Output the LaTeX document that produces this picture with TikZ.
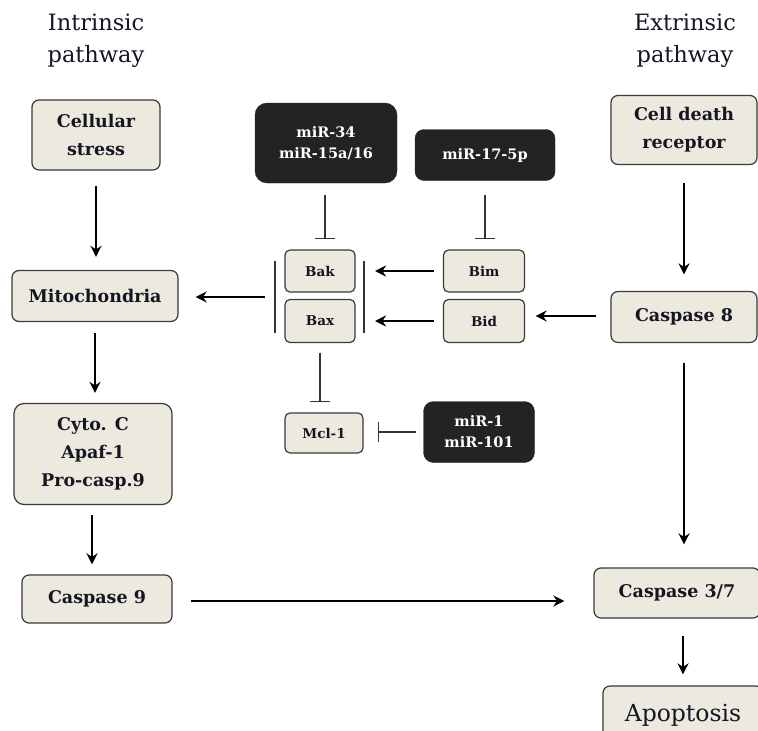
\documentclass[tikz,border=0pt]{standalone}
\usepackage{fontspec}
\setmainfont{DejaVu Serif}
\usetikzlibrary{arrows.meta}
\definecolor{boxfill}{HTML}{ECE9DF}
\definecolor{boxline}{HTML}{3A3A3A}
\definecolor{mirfill}{HTML}{232323}
\definecolor{ink}{HTML}{161622}
\definecolor{inhcol}{HTML}{333333}
\tikzset{
  box/.style={draw=boxline, fill=boxfill, rounded corners=7pt, line width=1.2pt,
    text=ink, font=\bfseries\fontsize{17.5}{28}\selectfont, align=center, inner sep=0pt},
  smallbox/.style={box, font=\bfseries\fontsize{13.5}{15}\selectfont, rounded corners=5pt},
  mirbox/.style={fill=mirfill, draw=mirfill, rounded corners=12pt, text=white,
    font=\bfseries\fontsize{14.5}{21}\selectfont, align=center, inner sep=0pt},
  heading/.style={font=\fontsize{22.5}{32}\selectfont, align=center, text=ink},
  arr/.style={-{Stealth[length=11pt,width=11pt,inset=3.5pt]}, line width=2.4pt, draw=black},
  inh/.style={-{Bar[width=20pt,line width=1.2pt]}, line width=1.2pt, draw=inhcol},
  bracketline/.style={line width=1.2pt, draw=inhcol},
}
\begin{document}
\begin{tikzpicture}[x=1pt, y=-1pt]
\useasboundingbox (0,0) rectangle (758,731);
\clip (0,0) rectangle (758,731);

% headings
\node[heading] (hin) at (96,41) {Intrinsic\\pathway};
\node[heading] (hex) at (685,41) {Extrinsic\\pathway};

% intrinsic column
\node[box, minimum width=128pt, minimum height=70pt] (cs) at (96,135) {Cellular\\stress};
\node[box, minimum width=166pt, minimum height=51pt] (mito) at (95,296) {Mitochondria};
\node[box, minimum width=158pt, minimum height=101pt, rounded corners=10pt] (cyto) at (93,454) {Cyto. C\\Apaf-1\\Pro-casp.9};
\node[box, minimum width=150pt, minimum height=48pt] (casp9) at (97,599) {Caspase 9};

% microRNA regulators
\node[mirbox, minimum width=142pt, minimum height=80pt] (mir34) at (326,143) {miR-34\\miR-15a/16};
\node[mirbox, minimum width=140pt, minimum height=51pt, rounded corners=9pt] (mir17) at (485,155) {miR-17-5p};
\node[mirbox, minimum width=111pt, minimum height=61pt, rounded corners=10pt] (mir1) at (479,432) {miR-1\\miR-101};

% Bcl-2 family
\node[smallbox, minimum width=70pt, minimum height=42pt] (bak) at (320,271) {Bak};
\node[smallbox, minimum width=70pt, minimum height=43pt] (bax) at (320,321) {Bax};
\node[smallbox, minimum width=81pt, minimum height=42pt] (bim) at (484,271) {Bim};
\node[smallbox, minimum width=81pt, minimum height=43pt] (bid) at (484,321) {Bid};
\node[smallbox, minimum width=78pt, minimum height=40pt] (mcl) at (324,433) {Mcl-1};

% extrinsic column
\node[box, minimum width=146pt, minimum height=69pt] (cdr) at (684,130) {Cell death\\receptor};
\node[box, minimum width=146pt, minimum height=51pt] (casp8) at (684,317) {Caspase 8};
\node[box, minimum width=166pt, minimum height=50pt] (casp37) at (677,593) {Caspase 3/7};
\node[box, minimum width=160pt, minimum height=54pt, font=\fontsize{23.5}{26}\selectfont, text depth=0pt] (apop) at (683,713) {Apoptosis};

% bracket around Bak/Bax
\coordinate (bl1) at (275,261);
\coordinate (bl2) at (275,333);
\coordinate (br1) at (364,261);
\coordinate (br2) at (364,333);
\draw[bracketline] (bl1) -- (bl2);
\draw[bracketline] (br1) -- (br2);
\coordinate (blm) at (275,297);

% activating arrows
\draw[arr, shorten <=15pt, shorten >=13pt] (cs.south) -- (cs.south |- mito.north);
\draw[arr, shorten <=11pt, shorten >=10pt] (mito.south) -- (mito.south |- cyto.north);
\draw[arr, shorten <=10pt, shorten >=10pt] ([xshift=-1pt]cyto.south) -- ([xshift=-1pt]cyto.south |- casp9.north);
\draw[arr, shorten <=18pt, shorten >=29pt] ([yshift=-2pt]casp9.east) -- ([yshift=-2pt]casp9.east -| casp37.west);
\draw[arr, shorten <=17.5pt, shorten >=16.5pt] (cdr.south) -- (cdr.south |- casp8.north);
\draw[arr, shorten <=19.5pt, shorten >=23pt] (casp8.south) -- (casp8.south |- casp37.north);
\draw[arr, shorten <=17pt, shorten >=11pt] (apop.north |- casp37.south) -- (apop.north);
\draw[arr, shorten <=10pt, shorten >=17pt] (blm) -- (blm -| mito.east);
\draw[arr, shorten <=8.5pt, shorten >=11pt] (bim.west) -- (bim.west -| br1);
\draw[arr, shorten <=8.5pt, shorten >=11pt] (bid.west) -- (bid.west -| br1);
\draw[arr, shorten <=14pt, shorten >=10.5pt] ([yshift=1pt]casp8.west) -- ([yshift=1pt]casp8.west -| bid.east);

% inhibitions
\draw[inh, shorten <=12pt, shorten >=10pt] ([xshift=-1pt]mir34.south) -- ([xshift=-1pt]mir34.south |- bak.north);
\draw[inh, shorten <=14.5pt, shorten >=10pt] (mir17.south) -- (mir17.south |- bim.north);
\draw[inh, shorten <=9.5pt, shorten >=10pt] (bax.south) -- (bax.south |- mcl.north);
\draw[inh, shorten <=7.5pt, shorten >=14pt] (mir1.west) -- (mir1.west -| mcl.east);
\end{tikzpicture}
\end{document}
